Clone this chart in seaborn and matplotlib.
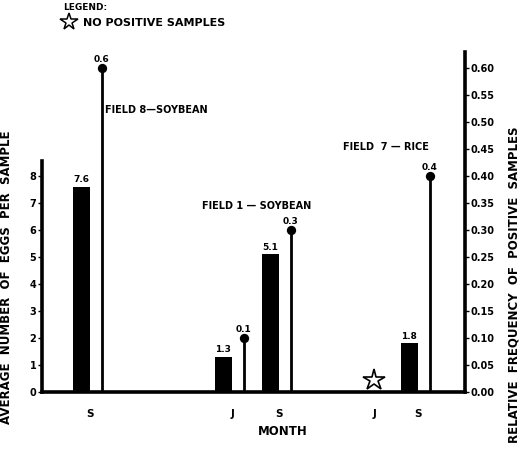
import numpy as np
import pandas as pd
import matplotlib
matplotlib.use("Agg")
import matplotlib.pyplot as plt
import matplotlib.transforms as mtransforms
from matplotlib.lines import Line2D
import seaborn as sns

# ---- data ----
field_names = ["FIELD 8—SOYBEAN", "FIELD 1 — SOYBEAN", "FIELD  7 — RICE"]
field_of_obs = [0, 1, 1, 2, 2]
months = ["S", "J", "S", "J", "S"]
eggs = [7.6, 1.3, 5.1, np.nan, 1.8]          # average number of eggs per sample
freq = [0.6, 0.1, 0.3, np.nan, 0.4]          # relative frequency of positive samples

# ---- layout (positions only) ----
month_pos = np.array([9.0, 23.2, 27.9, 37.4, 41.8])
bar_shift, stem_shift, bar_w = -0.9, 1.2, 1.7
field_label_xy = [(0.149, 0.829), (0.378, 0.547), (0.712, 0.721)]

sns.set_style("ticks")
plt.rcParams["font.family"] = ["DejaVu Sans"]
plt.rcParams["font.weight"] = "bold"
for k in ("text.color", "axes.labelcolor", "xtick.color", "ytick.color",
          "axes.edgecolor"):
    plt.rcParams[k] = "black"

df = pd.DataFrame({"field": [field_names[i] for i in field_of_obs],
                   "month": months, "eggs": eggs, "freq": freq,
                   "pos": month_pos})
df["bar_x"] = df["pos"] + bar_shift
df["stem_x"] = df["pos"] + stem_shift
bars = df.dropna(subset=["eggs"])
stems = df.dropna(subset=["freq"])
none_pos = df[df["eggs"].isna()]

fig = plt.figure(figsize=(5.19, 4.55), dpi=100)
ax = fig.add_axes([42 / 519, 63 / 455, 423 / 519, 340 / 455])

native_unit = np.min(np.diff(np.sort(bars["bar_x"].unique())))
sns.barplot(data=bars, x="bar_x", y="eggs", native_scale=True, color="black",
            saturation=1, width=bar_w / native_unit, errorbar=None, ax=ax,
            edgecolor="black", linewidth=0)

ax.set_xlim(4.2, 46.5)
ax.set_ylim(0, 12.6)

ax2 = ax.twinx()
ax2.set_ylim(0, 0.63)
ax2.vlines(stems["stem_x"], 0, stems["freq"], color="black", lw=2)
sns.scatterplot(data=stems, x="stem_x", y="freq", ax=ax2, color="black",
                s=45, edgecolor="black", linewidth=0, legend=False, zorder=5)

# value labels
for _, r in bars.iterrows():
    ax.annotate(f"{r.eggs:g}", (r.bar_x, r.eggs), xytext=(0, 2),
                textcoords="offset points", ha="center", va="bottom",
                fontsize=6.5, fontweight="bold")
for _, r in stems.iterrows():
    ax2.annotate(f"{r.freq:g}", (r.stem_x, r.freq), xytext=(0, 3),
                 textcoords="offset points", ha="center", va="bottom",
                 fontsize=6.5, fontweight="bold")

# star for months with no positive samples
star_tr = mtransforms.offset_copy(ax.transData, fig=fig, x=0, y=8.5, units="points")
ax.plot(none_pos["pos"], np.zeros(len(none_pos)), ls="", marker="*", ms=16,
        mfc="white", mec="black", mew=1.2, transform=star_tr, clip_on=False)

# field labels
for name, (fx, fy) in zip(field_names, field_label_xy):
    ax.text(fx, fy, name, transform=ax.transAxes, ha="left", va="center",
            fontsize=7, fontweight="bold")

# axes styling
for a in (ax, ax2):
    a.spines["top"].set_visible(False)
ax.spines["right"].set_visible(False)
ax2.spines["left"].set_visible(False)
ax2.spines["bottom"].set_visible(False)
ax.spines["left"].set_bounds(0, 8.55)
for s in ("left", "bottom"):
    ax.spines[s].set_linewidth(2.6)
ax2.spines["right"].set_linewidth(2.6)

ax.set_yticks(range(0, 9))
ax.set_yticklabels([str(i) for i in range(0, 9)], fontsize=7, fontweight="bold")
ax.tick_params(axis="y", length=3, width=1, pad=1)
rt = np.round(np.arange(0, 0.601, 0.05), 2)
ax2.set_yticks(rt)
ax2.set_yticklabels([f"{v:.2f}" for v in rt], fontsize=7, fontweight="bold")
ax2.tick_params(axis="y", length=3, width=1, pad=1)

ax.set_xticks(month_pos)
ax.set_xticklabels(months, fontsize=7.5, fontweight="bold")
ax.tick_params(axis="x", length=0, pad=12)

ax.set_xlabel("MONTH", fontsize=8.5, fontweight="bold")
ax.xaxis.set_label_coords(0.57, -0.098)
ax.set_ylabel("AVERAGE  NUMBER  OF  EGGS  PER  SAMPLE", fontsize=8.5, fontweight="bold")
ax.yaxis.set_label_coords(-0.069, 0.338)
ax2.set_ylabel("RELATIVE  FREQUENCY  OF  POSITIVE  SAMPLES", fontsize=8.5,
               fontweight="bold", rotation=90)
ax2.yaxis.set_label_coords(1.10, 0.315)

# legend
handle = Line2D([], [], ls="", marker="*", ms=13, mfc="white", mec="black", mew=1.1)
fig.legend(handles=[handle], labels=["NO POSITIVE SAMPLES"], title="LEGEND:",
           loc="upper left", bbox_to_anchor=(63 / 519, 1 - 3 / 455), frameon=False,
           handlelength=1.0, handletextpad=0.8, borderpad=0, borderaxespad=0,
           alignment="left", prop={"weight": "bold", "size": 8},
           title_fontproperties={"weight": "bold", "size": 6.5})

fig.savefig("out.png", dpi=100)
